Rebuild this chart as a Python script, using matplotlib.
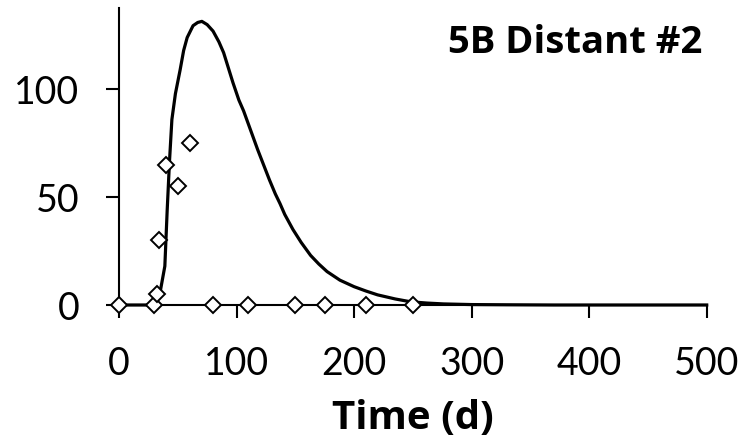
import matplotlib
matplotlib.use("Agg")
import matplotlib.pyplot as plt

plt.rcParams['font.family'] = ['Lato', 'DejaVu Sans']

# Observed measurements (diamonds)
obs_time = [0, 30, 32, 34, 40, 50, 60, 80, 110, 150, 175, 210, 250]
obs_value = [0, 0, 5, 30, 65, 55, 75, 0, 0, 0, 0, 0, 0]

# Model curve
model_time = [0, 28, 32, 35, 39, 41, 43, 45, 48, 52, 55, 58, 63, 67, 70.5, 75,
              80, 85, 89, 93, 97, 102, 106, 110, 114, 118, 123, 128, 133, 137,
              141, 148, 155, 163, 170, 177, 188, 200, 210, 220, 235, 248, 262,
              276, 300, 330, 370, 420, 500]
model_value = [0, 0, 2, 6, 18, 44, 67, 86, 98, 109, 118, 124, 129.5, 131, 131.5,
               130, 127, 122, 117, 110, 103, 95, 90, 84, 78, 72, 65, 58, 51.5,
               47, 42, 35, 29, 23, 19, 15.5, 11.5, 8.5, 6.5, 4.7, 2.8, 1.5, 0.9,
               0.5, 0.2, 0.1, 0, 0, 0]

x_ticks = [0, 100, 200, 300, 400, 500]
y_ticks = [0, 50, 100]

fig = plt.figure(figsize=(7.55, 4.38), dpi=100)
ax = fig.add_axes([119 / 755, 1 - 305 / 438, (706.7 - 119) / 755, (305 - 8) / 438])

ax.plot(model_time, model_value, color='black', lw=2.3, clip_on=False, zorder=3,
        solid_joinstyle='round')
ax.plot(obs_time, obs_value, linestyle='none', marker='D', markersize=7.8,
        markerfacecolor='white', markeredgecolor='black', markeredgewidth=1.4,
        clip_on=False, zorder=4)

ax.set_xlim(0, 500)
ax.set_ylim(0, 137.7)
ax.set_xticks(x_ticks)
ax.set_yticks(y_ticks)

for side in ('top', 'right'):
    ax.spines[side].set_visible(False)
for side in ('left', 'bottom'):
    ax.spines[side].set_linewidth(1.5)

ax.tick_params(axis='both', direction='out', length=9.4, width=1.5,
               labelsize=27, colors='black')
ax.tick_params(axis='x', pad=20)
ax.tick_params(axis='y', pad=19)

bold_font = ['Open Sans', 'DejaVu Sans']
ax.set_xlabel('Time (d)', fontsize=29, fontweight='bold', family=bold_font,
              labelpad=12)

fig.text(448 / 755, 1 - 53 / 438, '5B Distant #2', fontsize=27.5,
         fontweight='bold', family=bold_font, ha='left', va='baseline')

fig.savefig('out.png', dpi=100)
